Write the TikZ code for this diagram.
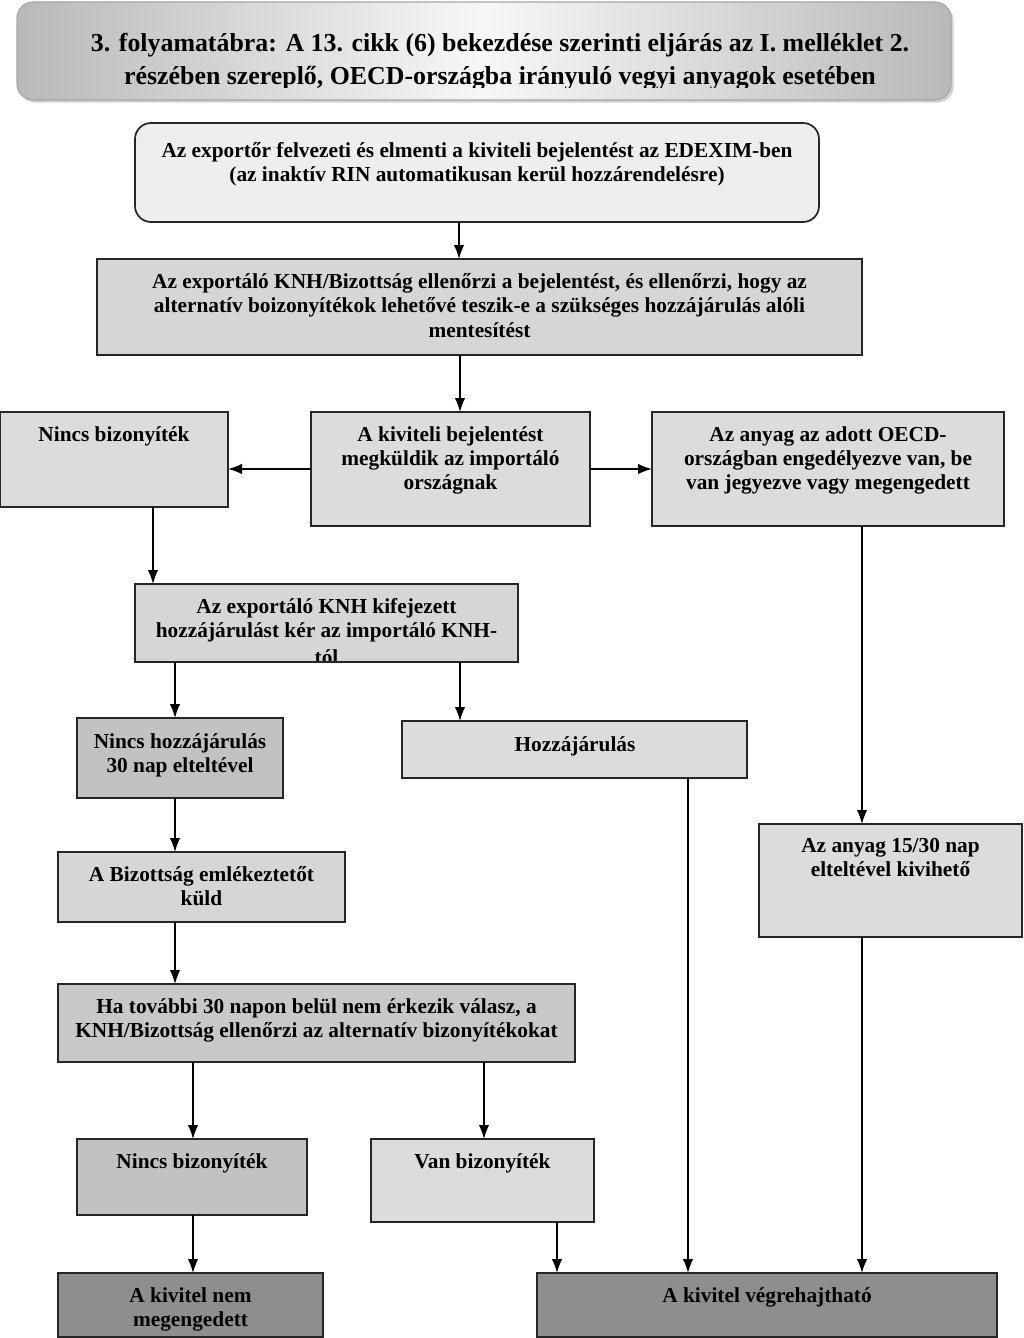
\documentclass[tikz,border=0pt]{standalone}
\usepackage{fontspec}
\setmainfont{Liberation Serif}
\usetikzlibrary{arrows.meta,shadows}
\definecolor{lite}{HTML}{EEEEEE}
\definecolor{mid}{HTML}{DCDCDC}
\definecolor{midb}{HTML}{D6D6D6}
\definecolor{dk}{HTML}{C2C2C2}
\definecolor{dkb}{HTML}{C8C8C8}
\definecolor{fin}{HTML}{8E8E8E}
\tikzset{
  boxst/.style={draw=black!85, line width=1.3pt, inner sep=0pt, outer sep=0pt},
  txt/.style={font=\bfseries\fontsize{16}{18.3}\selectfont, align=center, inner sep=0pt},
  ttl/.style={font=\bfseries\fontsize{19.4}{24.5}\selectfont, align=center, inner sep=0pt},
  arr/.style={line width=1.3pt, -{Latex[length=10.5pt,width=8pt]}},
}
\newcommand\mkbox[6]{\node[boxst, fill=#2, minimum width={(#5-#3)*0.75pt}, minimum height={(#6-#4)*0.75pt}] (#1) at ({(#3+#5)/2},{(#4+#6)/2}) {};}
\begin{document}
\begin{tikzpicture}[x=0.75pt,y=-0.75pt]
\useasboundingbox (0,0) rectangle (1024,1338);
% title
\node[draw=gray!70, line width=0.8pt, rounded corners=12pt, left color=gray!55, right color=gray!55, middle color=gray!6,
  drop shadow={opacity=0.35, shadow xshift=2pt, shadow yshift=-2pt},
  minimum width={934*0.75pt}, minimum height={98*0.75pt}, inner sep=0pt] (title) at (484,51) {};
\begin{scope}
\clip (17,2) rectangle (951,88);
\node[ttl, anchor=north] (titlet) at (500,33) {3. folyamatábra: A 13. cikk (6) bekezdése szerinti eljárás az I. melléklet 2.\\ részében szereplő, OECD-országba irányuló vegyi anyagok esetében};
\end{scope}
% top rounded box
\node[boxst, fill=lite, rounded corners=12pt, minimum width={684*0.75pt}, minimum height={99*0.75pt}] (b1) at (477,172.5) {};
\node[txt, anchor=north] (b1t) at (477,142) {Az exportőr felvezeti és elmenti a kiviteli bejelentést az EDEXIM-ben\\(az inaktív RIN automatikusan kerül hozzárendelésre)};
% box 2
\mkbox{b2}{midb}{97}{259}{862}{355}
\node[txt, anchor=north] (b2t) at (479.5,273) {Az exportáló KNH/Bizottság ellenőrzi a bejelentést, és ellenőrzi, hogy az\\alternatív boizonyítékok lehetővé teszik-e a szükséges hozzájárulás alóli\\mentesítést};
% row 3
\mkbox{l3}{mid}{0}{412}{228}{507}
\node[txt, anchor=north] (l3t) at (114,426) {Nincs bizonyíték};
\mkbox{m3}{mid}{311}{412}{590}{526}
\node[txt, anchor=north] (m3t) at (450.5,426) {A kiviteli bejelentést\\megküldik az importáló\\országnak};
\mkbox{r3}{mid}{652}{412}{1004}{526}
\node[txt, anchor=north] (r3t) at (828,426) {Az anyag az adott OECD-\\országban engedélyezve van, be\\van jegyezve vagy megengedett};
% KNH box
\mkbox{knh}{midb}{135}{584}{518}{662}
\begin{scope}
\clip (135,584) rectangle (518,660.5);
\node[txt, anchor=north] (knht) at (326.5,598) {Az exportáló KNH kifejezett\\hozzájárulást kér az importáló KNH-\\[2pt]tól};
\end{scope}
% second level
\mkbox{nh}{dk}{77}{718}{283}{798}
\node[txt, anchor=north] (nht) at (180,733) {Nincs hozzájárulás\\30 nap elteltével};
\mkbox{hz}{mid}{402}{721}{747}{778}
\node[txt, anchor=north] (hzt) at (575,736) {Hozzájárulás};
\mkbox{bz}{midb}{58}{852}{345}{922}
\node[txt, anchor=north] (bzt) at (201.5,866) {A Bizottság emlékeztetőt\\küld};
\mkbox{ha}{dkb}{58}{984}{575}{1062}
\node[txt, anchor=north] (hat) at (316.5,998) {Ha további 30 napon belül nem érkezik válasz, a\\KNH/Bizottság ellenőrzi az alternatív bizonyítékokat};
\mkbox{nb}{dk}{77}{1139}{307}{1215}
\node[txt, anchor=north] (nbt) at (192,1153) {Nincs bizonyíték};
\mkbox{vb}{mid}{371}{1139}{594}{1222}
\node[txt, anchor=north] (vbt) at (482.5,1153) {Van bizonyíték};
\mkbox{aa}{mid}{759}{824}{1022}{937}
\node[txt, anchor=north] (aat) at (890.5,838) {Az anyag 15/30 nap\\elteltével kivihető};
\mkbox{fl}{fin}{58}{1273}{323}{1337}
\node[txt, anchor=north] (flt) at (190.5,1287) {A kivitel nem\\megengedett};
\mkbox{fr}{fin}{537}{1273}{997}{1337}
\node[txt, anchor=north] (frt) at (767,1287) {A kivitel végrehajtható};
% connectors
\draw[arr] (b1.south -| 459,0) -- (b2.north -| 459,0);
\draw[arr] (b2.south -| 460,0) -- (m3.north -| 460,0);
\draw[arr] (m3.west |- 0,469) -- (l3.east |- 0,469);
\draw[arr] (m3.east |- 0,469) -- (r3.west |- 0,469);
\draw[arr] (l3.south -| 153,0) -- (knh.north -| 153,0);
\draw[arr] (knh.south -| 175,0) -- (nh.north -| 175,0);
\draw[arr] (knh.south -| 460,0) -- (hz.north -| 460,0);
\draw[arr] (nh.south -| 175,0) -- (bz.north -| 175,0);
\draw[arr] (bz.south -| 175,0) -- (ha.north -| 175,0);
\draw[arr] (ha.south -| 193,0) -- (nb.north -| 193,0);
\draw[arr] (ha.south -| 484,0) -- (vb.north -| 484,0);
\draw[arr] (nb.south -| 193,0) -- (fl.north -| 193,0);
\draw[arr] (vb.south -| 557,0) -- (fr.north -| 557,0);
\draw[arr] (hz.south -| 688,0) -- (fr.north -| 688,0);
\draw[arr] (r3.south -| 862,0) -- (aa.north -| 862,0);
\draw[arr] (aa.south -| 862,0) -- (fr.north -| 862,0);
\end{tikzpicture}
\end{document}
